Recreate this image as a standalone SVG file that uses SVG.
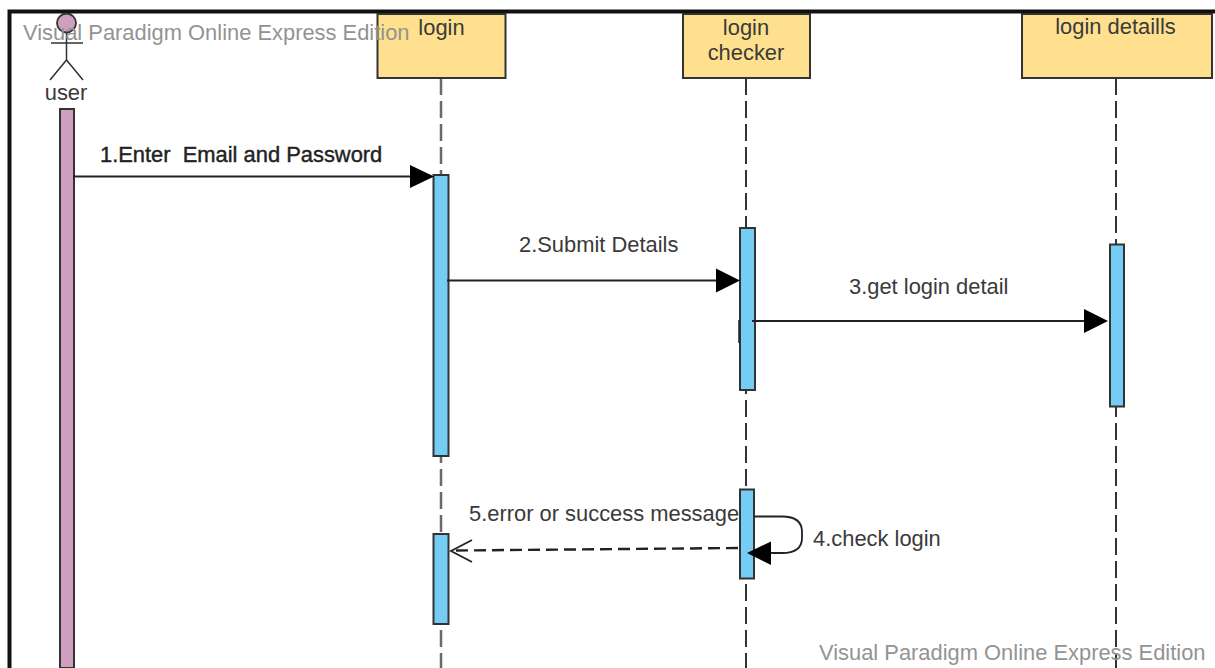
<svg xmlns="http://www.w3.org/2000/svg" width="1215" height="668" viewBox="0 0 1215 668">
<style>
text{font-family:"Liberation Sans",Arial,sans-serif;font-size:21.900px;fill:#3a3a3a}
.m{text-anchor:middle}
.wm{fill:#939393;font-size:21.900px}
.head{fill:#ffe08f;stroke:#333;stroke-width:2}
.act{fill:#75cdf5;stroke:#333;stroke-width:2}
.life{stroke:#333;stroke-width:2;stroke-dasharray:17 6;fill:none}
.msg{stroke:#222;stroke-width:1.800;fill:none}
.arr{fill:#000;stroke:none}
</style>
<rect width="1215" height="668" fill="#fff"/>
<g id="frame"><path d="M1215 11.500H9.500V668" fill="none" stroke="#111" stroke-width="4"/></g>
<g id="lifelines">
<line class="life" x1="441" y1="78" x2="441" y2="668" style="stroke:#6a6a6a;stroke-width:2.500"/>
<line class="life" x1="746" y1="78" x2="746" y2="668"/>
<line class="life" x1="1116" y1="78" x2="1116" y2="668"/>
</g>
<g id="user">
<rect x="60" y="109" width="14" height="559" fill="#cf9fbf" stroke="#333" stroke-width="2"/>
<circle cx="66.500" cy="23" r="9.500" fill="#cf9fbf" stroke="#333" stroke-width="1.800"/>
<path d="M51 43H83M66.500 33V60M50 80L66.500 60L83 80" fill="none" stroke="#333" stroke-width="1.500"/>
<text class="m" x="66" y="100">user</text>
</g>
<g id="login">
<rect class="head" x="377.500" y="14" width="128" height="64"/>
<text class="m" x="441.500" y="35">login</text>
<rect class="act" x="433.500" y="175" width="15" height="281"/>
<rect class="act" x="433.500" y="534" width="15" height="90"/>
</g>
<g id="login-checker">
<rect class="head" x="683" y="14" width="127" height="64"/>
<text class="m" x="746" y="35">login</text>
<text class="m" x="746" y="60">checker</text>
<rect class="act" x="740" y="228" width="15" height="162"/>
<rect class="act" x="740" y="489.500" width="14" height="89"/>
</g>
<g id="login-details">
<rect class="head" x="1022" y="14" width="190" height="64"/>
<text class="m" x="1115.500" y="34">login detaills</text>
<rect class="act" x="1110" y="244.500" width="14" height="162"/>
</g>
<g id="connectors">
<path class="msg" d="M73 176.500H412"/><path class="arr" d="M410 165L434 176.500L410 188Z"/>
<path class="msg" d="M447 280.500H718"/><path class="arr" d="M716 268.500L740 280.500L716 292.500Z"/>
<path class="msg" d="M752 321H1086"/><path class="arr" d="M1084 309L1108 321L1084 333Z"/>
<path class="msg" d="M754 516.500H782Q802 516.500 802 532V538Q802 553 782 553H765"/><path class="arr" d="M771 541.500L747 553L771 565Z"/>
<path d="M738 548L456 550.500" fill="none" stroke="#222" stroke-width="2.400" stroke-dasharray="12 6"/>
<path d="M472 540L451 551L472 562" fill="none" stroke="#222" stroke-width="1.800"/>
<line x1="739" y1="320" x2="739" y2="343" stroke="#222" stroke-width="1.500"/>
</g>
<g id="labels">
<text x="100" y="162" stroke="#222" stroke-width=".4" xml:space="preserve" style="fill:#222">1.Enter  Email and Password</text>
<text x="519" y="252">2.Submit Details</text>
<text x="849" y="294">3.get login detail</text>
<text x="813" y="546">4.check login</text>
<text x="469" y="521">5.error or success message</text>
</g>
<g id="watermarks">
<text class="wm" x="23" y="40">Visual Paradigm Online Express Edition</text>
<text class="wm" x="819" y="660">Visual Paradigm Online Express Edition</text>
</g>
</svg>
